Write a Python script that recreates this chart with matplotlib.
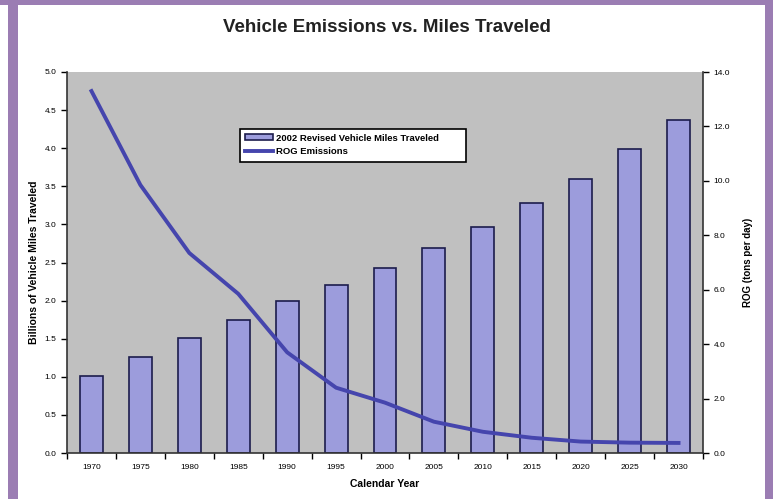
import matplotlib
matplotlib.use("Agg")
import matplotlib.pyplot as plt
from matplotlib.patches import Rectangle
import numpy as np

plt.rcParams['font.family'] = ['Liberation Sans', 'DejaVu Sans']

years = ["1970", "1975", "1980", "1985", "1990", "1995", "2000",
         "2005", "2010", "2015", "2020", "2025", "2030"]
vmt_billions = [1.01, 1.26, 1.51, 1.75, 1.99, 2.20, 2.43,
                2.69, 2.97, 3.28, 3.59, 3.99, 4.37]
rog_tons = [13.3, 9.85, 7.35, 5.85, 3.7, 2.4, 1.85,
            1.15, 0.78, 0.56, 0.42, 0.38, 0.37]
left_ticks = [0.0, 0.5, 1.0, 1.5, 2.0, 2.5, 3.0, 3.5, 4.0, 4.5, 5.0]
right_ticks = [0.0, 2.0, 4.0, 6.0, 8.0, 10.0, 12.0, 14.0]

W, H = 773, 499
fig = plt.figure(figsize=(W / 100, H / 100), dpi=100)
fig.patch.set_facecolor("white")

# purple frame around the chart area
frame = "#9b7db3"
fig.add_artist(Rectangle((0, 1 - 5 / H), 1, 5 / H, transform=fig.transFigure,
                         color=frame, lw=0))
fig.add_artist(Rectangle((8 / W, 0), 10 / W, 1, transform=fig.transFigure,
                         color=frame, lw=0))
fig.add_artist(Rectangle((1 - 8 / W, 0), 8 / W, 1, transform=fig.transFigure,
                         color=frame, lw=0))

ax = fig.add_axes([67 / W, 1 - 453 / H, 636 / W, 381 / H])
ax.set_facecolor("#c0c0c0")
x = np.arange(len(years))
bars = ax.bar(x, vmt_billions, width=0.47, color="#9c9cdc",
              edgecolor="#1c1c4c", linewidth=1.2, zorder=2,
              label="2002 Revised Vehicle Miles Traveled")
ax.set_xlim(-0.5, len(years) - 0.5)
ax.set_ylim(0, 5.0)
ax.set_yticks(left_ticks)
ax.set_yticklabels([f"{v:.1f}" for v in left_ticks])
ax.set_xticks(x)
ax.set_xticklabels(years)
ax.set_xticks(np.arange(-0.5, len(years), 1), minor=True)
ax.tick_params(axis="x", which="major", length=0, labelsize=6, pad=8)
ax.tick_params(axis="x", which="minor", length=4, width=1, direction="out")
ax.tick_params(axis="y", labelsize=6, length=4, width=1, direction="out")
ax.set_xlabel("Calendar Year", fontsize=7.5, fontweight="bold", labelpad=6)
ax.set_ylabel("Billions of Vehicle Miles Traveled", fontsize=7.5,
              fontweight="bold", labelpad=4)
for s in ["top", "right"]:
    ax.spines[s].set_visible(False)
for s in ["left", "bottom"]:
    ax.spines[s].set_color("#333333")
    ax.spines[s].set_linewidth(1.2)

ax2 = ax.twinx()
line, = ax2.plot(x, rog_tons, color="#4545ad", linewidth=2.8, zorder=3,
                 label="ROG Emissions")
ax2.set_ylim(0, 14.0)
ax2.set_yticks(right_ticks)
ax2.set_yticklabels([f"{v:.1f}" for v in right_ticks])
ax2.tick_params(axis="y", labelsize=6, length=4, width=1, direction="out")
ax2.set_ylabel("ROG (tons per day)", fontsize=7, fontweight="bold",
               rotation=90, labelpad=9)
for s in ["top", "left", "bottom"]:
    ax2.spines[s].set_visible(False)
ax2.spines["right"].set_color("#333333")
ax2.spines["right"].set_linewidth(1.2)

leg = ax2.legend([bars, line], ["2002 Revised Vehicle Miles Traveled",
                                "ROG Emissions"],
                 loc="upper left", bbox_to_anchor=(0.264, 0.864, 0.37, 0.0),
                 mode="expand", fontsize=6.8, frameon=True, fancybox=False,
                 edgecolor="black", framealpha=1, handlelength=3.0,
                 handleheight=0.6, borderpad=0.55, labelspacing=0.5,
                 handletextpad=0.3)
leg.get_frame().set_linewidth(1.2)
for t in leg.get_texts():
    t.set_fontweight("bold")

fig.text(0.5, 1 - 28 / H, "Vehicle Emissions vs. Miles Traveled",
         ha="center", va="center", fontsize=13.5, fontweight="bold",
         color="#222222")

fig.savefig("out.png", dpi=100)
